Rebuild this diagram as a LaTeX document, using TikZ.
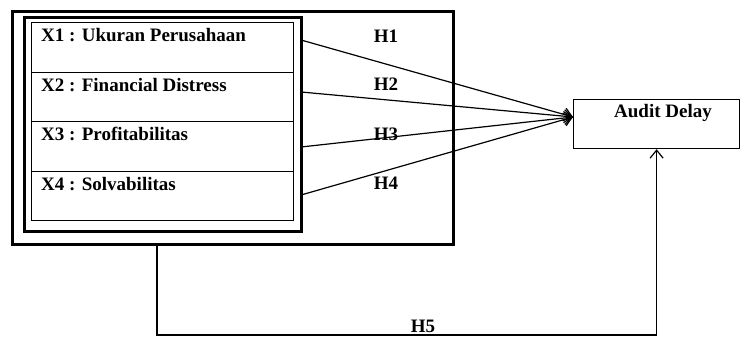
\documentclass[tikz,border=0pt]{standalone}
\usepackage{fontspec}
\setmainfont{Liberation Serif}
\usetikzlibrary{arrows.meta,calc}
\begin{document}
\begin{tikzpicture}[x=1pt,y=-1pt,
  lbl/.style={font=\bfseries\fontsize{19}{21}\selectfont, inner sep=0pt, anchor=north west},
  hlbl/.style={font=\bfseries\fontsize{19}{21}\selectfont, inner sep=0pt},
  rowbox/.style={draw, line width=1.2pt, minimum width=262pt, minimum height=49.5pt, anchor=north west, inner sep=0pt},
  conn/.style={line width=1.2pt, -{Straight Barb[length=8pt,width=13pt,line width=1.2pt]}}]
\useasboundingbox (0,0) rectangle (741,337);
% outer and inner frames
\node[draw, line width=3pt, minimum width=441pt, minimum height=233pt, anchor=north west, inner sep=0pt] (outer) at (10.5,10) {};
\node[draw, line width=3pt, minimum width=277pt, minimum height=214pt, anchor=north west, inner sep=0pt] (inner) at (23,16) {};
% rows
\node[rowbox] (r1) at (31,22) {};
\node[rowbox] (r2) at (31,71.5) {};
\node[rowbox] (r3) at (31,121) {};
\node[rowbox] (r4) at (31,170.5) {};
\node[lbl] (t1) at (41,28) {X1 : Ukuran Perusahaan};
\node[lbl] (t2) at (41,78) {X2 : Financial Distress};
\node[lbl] (t3) at (41,127) {X3 : Profitabilitas};
\node[lbl] (t4) at (41,177) {X4 : Solvabilitas};
% dependent
\node[draw, line width=1.2pt, minimum width=166pt, minimum height=49pt, anchor=north west, inner sep=0pt] (ad) at (573,99) {};
\node[hlbl] (adt) at (663,113) {Audit Delay};
% hypothesis labels
\node[hlbl] (h1) at (386,36) {H1};
\node[hlbl] (h2) at (386,84) {H2};
\node[hlbl] (h3) at (386,134) {H3};
\node[hlbl] (h4) at (386,183) {H4};
\node[hlbl] (h5) at (423,326) {H5};
% connectors
\coordinate (a1) at (301,40);
\coordinate (a2) at (301,92);
\coordinate (a3) at (301,147);
\coordinate (a4) at (301,195);
\coordinate (tip) at (573,117);
\draw[conn] (a1) -- (tip);
\draw[conn] (a2) -- (tip);
\draw[conn] (a3) -- (tip);
\draw[conn] (a4) -- (tip);
\coordinate (b1) at (157,243);
\coordinate (b2) at (157,335);
\coordinate (b3) at (ad.south |- b2);
\draw[conn] (b1) -- (b2) -- (b3) -- (ad.south);
\end{tikzpicture}
\end{document}
